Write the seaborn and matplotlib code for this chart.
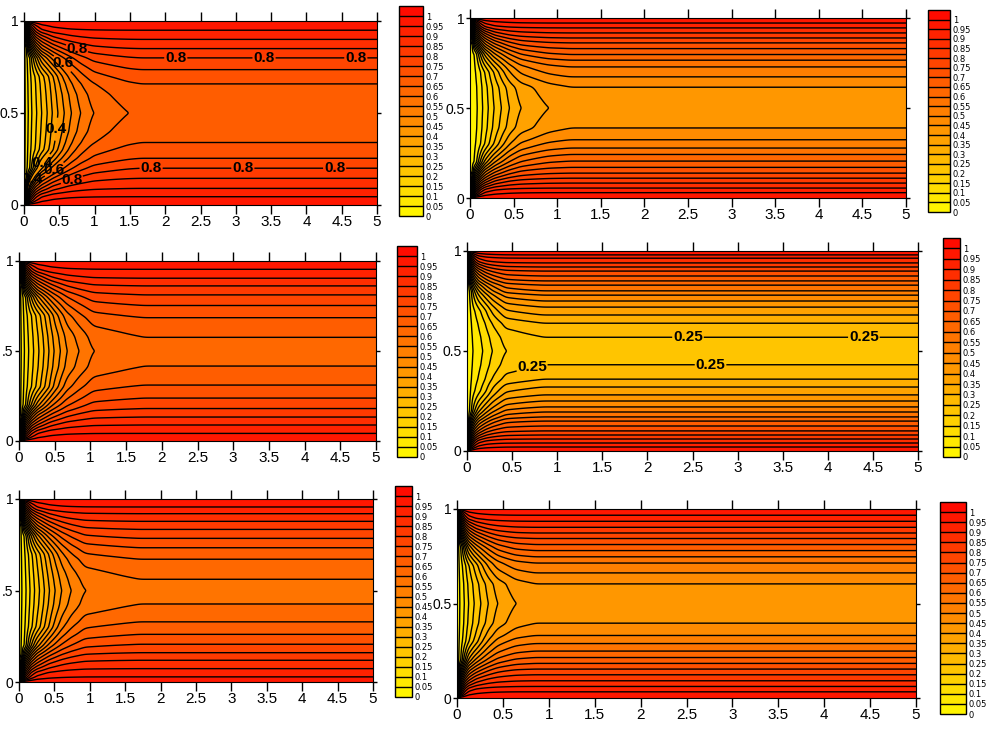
import numpy as np
import matplotlib
matplotlib.use("Agg")
import matplotlib.pyplot as plt
from matplotlib.colors import ListedColormap
import seaborn as sns
import logging
logging.getLogger("matplotlib.font_manager").setLevel(logging.ERROR)

W, H = 1000, 731
levels = np.round(np.arange(0, 1.0001, 0.05), 2)
bar_levels = np.round(np.arange(0, 1.0501, 0.05), 2)
bar_labels = ["0", "0.05", "0.1", "0.15", "0.2", "0.25", "0.3", "0.35", "0.4", "0.45", "0.5",
              "0.55", "0.6", "0.65", "0.7", "0.75", "0.8", "0.85", "0.9", "0.95", "1"]
x_ticks = [0, 0.5, 1, 1.5, 2, 2.5, 3, 3.5, 4, 4.5, 5]
x_labels = ["0", "0.5", "1", "1.5", "2", "2.5", "3", "3.5", "4", "4.5", "5"]
y_ticks = [0, 0.5, 1]
y_labels = ["0", "0.5", "1"]
y_labels_short = ["0", ".5", "1"]

# Far-field: y position of each level, reading from the wall inward (0.95, 0.9, ...)
p1_low = [.045, .09, .145, .20, .253, .338]
p1_up = [.95, .90, .85, .80, .736, .66]
p2_low = [.03, .055, .083, .11, .138, .17, .205, .242, .277, .323, .387]
p2_up = [.972, .945, .917, .889, .862, .83, .797, .766, .729, .673, .618]
p3_low = [.042, .089, .133, .18, .238, .31, .415]
p3_up = [.954, .904, .862, .812, .753, .686, .577]
p4_low = [.02, .04, .06, .08, .10, .125, .15, .17, .195, .22, .25, .28, .32, .358, .43]
p4_up = [.98, .965, .94, .92, .90, .875, .85, .83, .80, .78, .75, .72, .68, .64, .57]
p5_low = [.027, .073, .119, .16, .206, .26, .328, .425]
p5_up = [.956, .92, .878, .834, .785, .734, .672, .562]
p6_low = [.033, .061, .091, .123, .153, .183, .214, .248, .288, .33, .394]
p6_up = [.967, .935, .903, .873, .844, .812, .78, .747, .715, .662, .606]

# Centre line y = 0.5: x position where each level is crossed
p1_cx = [0, .015, .06, .11, .18, .25, .33, .40, .48, .57, .67, .80, .98, 1.48, 1.65]
p1_ct = [0, .05, .10, .15, .20, .25, .30, .35, .40, .45, .50, .55, .60, .65, .66]
p2_cx = [0, .02, .085, .145, .21, .275, .36, .45, .58, .90, 1.15]
p2_ct = [0, .02, .05, .10, .15, .20, .25, .30, .35, .40, .42]
p3_cx = [0, .03, .075, .135, .205, .28, .35, .42, .49, .58, .67, .84, 1.04, 1.75]
p3_ct = [0, .05, .10, .15, .20, .25, .30, .35, .40, .45, .50, .55, .60, .63]
p4_cx = [0, .065, .175, .28, .43, .85]
p4_ct = [0, .05, .10, .15, .20, .225]
p5_cx = [0, .04, .10, .155, .22, .29, .36, .43, .51, .60, .735, .93, 1.7]
p5_ct = [0, .05, .10, .15, .20, .25, .30, .35, .40, .45, .50, .55, .58]
p6_cx = [0, .03, .08, .126, .187, .26, .34, .44, .64, .85]
p6_ct = [0, .05, .10, .15, .20, .25, .30, .35, .40, .42]

# Entry-region spread: share of the centre-line drop felt at (x / reach, y)
spread_s = [0, .02, .05, .10, .15, .25, .40, .60, .80, 1]
spread_y = [0, .02, .05, .10, .15, .20, .30, .40, .50]
spread_00 = [0, 0, 0, 0, 0, 0, 0, 0, 0, 0]
spread_02 = [.95, .45, .20, .10, .05, .03, .02, .01, 0, 0]
spread_05 = [1, .70, .35, .18, .10, .05, .03, .02, .01, .01]
spread_10 = [1, .85, .55, .38, .30, .20, .14, .10, .07, .05]
spread_15 = [1, 1, .80, .60, .48, .40, .32, .22, .15, .12]
spread_20 = [1, 1, 1, .85, .72, .62, .55, .45, .35, .30]
spread_30 = [1, 1, 1, 1, .99, .98, .85, .70, .60, .40]
spread_40 = [1, 1, 1, 1, 1, 1, 1, 1, .90, .70]
spread_50 = [1, 1, 1, 1, 1, 1, 1, 1, 1, 1]
spread = np.array([spread_00, spread_02, spread_05, spread_10, spread_15,
                   spread_20, spread_30, spread_40, spread_50])

# Pixel boxes: plot (left, right, top, bottom), bar (left, right, top, bottom)
panels = [
    dict(low=p1_low, up=p1_up, cx=p1_cx, ct=p1_ct, yl=y_labels, box=(24, 377, 21, 205), bar=(399, 423, 6, 216)),
    dict(low=p2_low, up=p2_up, cx=p2_cx, ct=p2_ct, yl=y_labels, box=(470, 906, 18, 198), bar=(928, 950, 10, 212)),
    dict(low=p3_low, up=p3_up, cx=p3_cx, ct=p3_ct, yl=y_labels_short, box=(19, 376, 261, 441), bar=(397, 417, 246, 457)),
    dict(low=p4_low, up=p4_up, cx=p4_cx, ct=p4_ct, yl=y_labels, box=(467, 918, 251, 451), bar=(943, 960, 238, 457)),
    dict(low=p5_low, up=p5_up, cx=p5_cx, ct=p5_ct, yl=y_labels_short, box=(19, 373, 499, 682), bar=(395, 412, 486, 697)),
    dict(low=p6_low, up=p6_up, cx=p6_cx, ct=p6_ct, yl=y_labels, box=(457, 916, 509, 698), bar=(940, 966, 502, 714)),
]

# In-line contour labels: panel index -> level -> label spots
contour_labels = {
    0: {0.8: [(2.15, .8), (3.4, .8), (4.7, .8), (.75, .85), (1.8, .2), (3.1, .2), (4.4, .2), (.72, .09)],
        0.6: [(.5, .75), (.47, .17)],
        0.4: [(.22, .42), (.12, .27), (.22, .12)]},
    3: {0.25: [(.72, .42), (2.7, .43), (2.45, .57), (4.4, .57)]},
}

sns.set_theme(style="ticks")
plt.rcParams["font.family"] = ["Liberation Sans Narrow", "Liberation Sans", "DejaVu Sans"]
palette = sns.color_palette("autumn_r", 21)
cmap = ListedColormap(palette)

# x grid is finer near the entry, so the soft pass below keeps the entry sharp
xg = np.linspace(0, np.sqrt(5), 1501) ** 2
yg = np.linspace(0, 1, 601)


def soften(z, k, axis):
    pad = [(0, 0), (0, 0)]
    pad[axis] = (k, k)
    padded = np.pad(z, pad, mode="edge")
    c = np.cumsum(padded, axis=axis)
    c = np.insert(c, 0, 0, axis=axis)
    hi = np.take(c, np.arange(2 * k + 1, c.shape[axis]), axis=axis)
    lo = np.take(c, np.arange(0, c.shape[axis] - 2 * k - 1), axis=axis)
    return (hi - lo) / (2 * k + 1)


def field(p):
    far_y = [0] + list(p["low"]) + [.5] + list(p["up"])[::-1] + [1]
    n = len(p["low"])
    walls = list(np.round(1 - 0.05 * np.arange(1, n + 1), 2))
    far_t = [1] + walls + [p["ct"][-1]] + walls[::-1] + [1]
    far = np.interp(yg, far_y, far_t)
    centre = np.interp(xg, p["cx"], p["ct"])
    drop = 1 - centre / p["ct"][-1]
    s = xg / p["cx"][-1]
    yy = np.minimum(yg, 1 - yg)
    by_y = np.array([np.interp(yy, spread_y, spread[:, j]) for j in range(len(spread_s))])
    sp = np.array([np.interp(s, spread_s, by_y[:, i]) for i in range(len(yg))])
    z = far[:, None] * (1 - drop[None, :] * sp)
    for _ in range(2):
        z = soften(z, 12, 1)
        z = soften(z, 3, 0)
    return z


fig = plt.figure(figsize=(W / 100, H / 100), dpi=100)

for i, p in enumerate(panels):
    l, r, t, b = p["box"]
    ax = fig.add_axes([l / W, 1 - b / H, (r - l) / W, (b - t) / H])
    z = field(p)
    labelled = contour_labels.get(i, {})
    plain = [v for v in levels[:-1] if float(v) not in labelled]
    cf = ax.contourf(xg, yg, z, levels=bar_levels, cmap=cmap, vmin=0, vmax=1.05)
    ax.contour(xg, yg, z, levels=plain, colors="black", linewidths=1.0)
    for lev, spots in labelled.items():
        cs = ax.contour(xg, yg, z, levels=[lev], colors="black", linewidths=1.0)
        txt = ax.clabel(cs, manual=spots, fmt="%g", fontsize=11,
                        colors="black", inline=True, inline_spacing=1)
        for tx in txt:
            tx.set_rotation(0)
            tx.set_fontweight("bold")
    ax.set_xlim(0, 5)
    ax.set_ylim(0, 1)
    ax.set_xticks(x_ticks, x_labels)
    ax.set_yticks(y_ticks, p["yl"])
    ax.tick_params(axis="x", direction="out", length=6.5, width=1, top=True, bottom=True,
                   labelsize=11, pad=1, color="black", labelcolor="black")
    ax.tick_params(axis="y", direction="out", length=3, width=1, left=True, right=True,
                   labelsize=10, pad=1, color="black", labelcolor="black")
    for sp in ax.spines.values():
        sp.set_visible(True)
        sp.set_linewidth(0.8)
        sp.set_color("black")

    l, r, t, b = p["bar"]
    cax = fig.add_axes([l / W, 1 - b / H, (r - l) / W, (b - t) / H])
    cb = fig.colorbar(cf, cax=cax, ticks=levels, drawedges=True)
    cb.ax.set_yticklabels(bar_labels, fontfamily="DejaVu Sans", fontsize=6)
    cb.ax.tick_params(length=0, pad=2, colors="black")
    cb.dividers.set_color("black")
    cb.dividers.set_linewidth(1)
    cb.outline.set_edgecolor("black")
    cb.outline.set_linewidth(1)

fig.savefig("out.png", dpi=100)
